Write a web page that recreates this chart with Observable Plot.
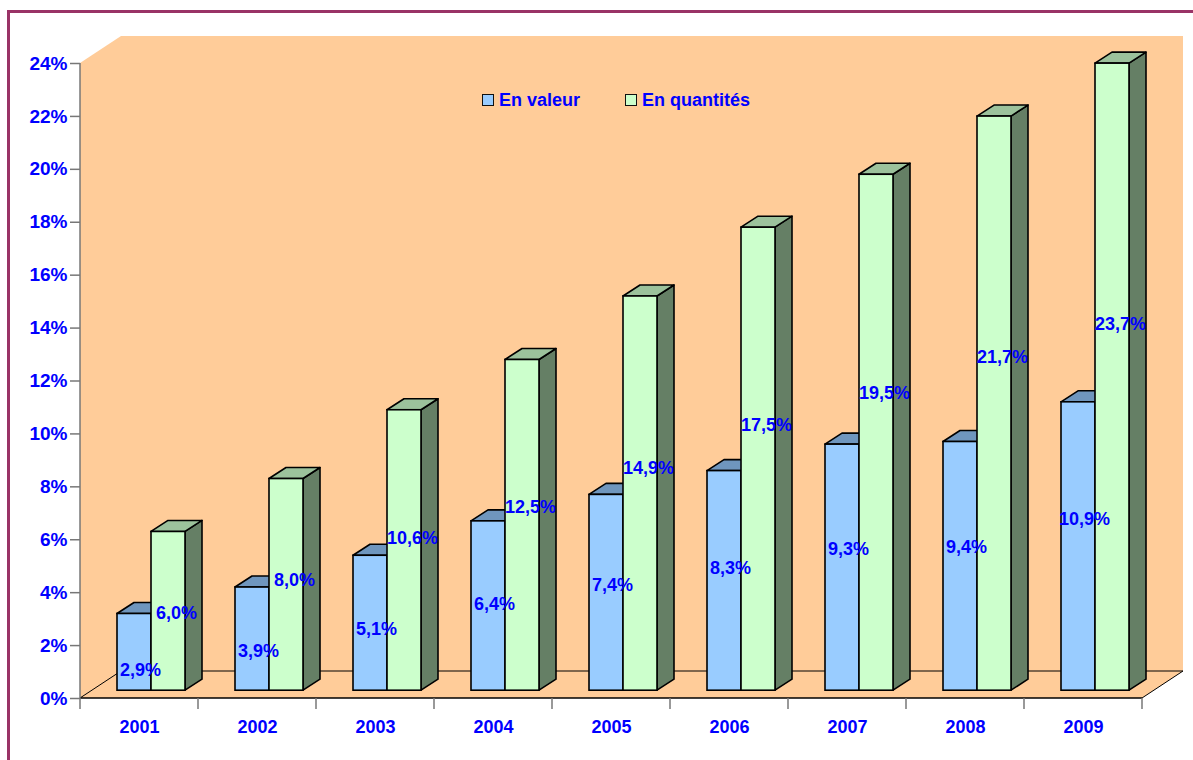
<!DOCTYPE html>
<html>
<head>
<meta charset="utf-8">
<script src="https://cdn.jsdelivr.net/npm/d3@7"></script>
<script src="https://cdn.jsdelivr.net/npm/@observablehq/plot@0.6"></script>
<style>
  html, body { margin: 0; padding: 0; background: #fff; }
  #page { position: relative; width: 1193px; height: 760px; overflow: hidden; font-family: "Liberation Sans", Arial, sans-serif; }
  #frame { position: absolute; left: 7px; top: 10px; width: 1300px; height: 900px; border: 3px solid #993366; box-sizing: border-box; }
  #chart { position: absolute; left: 0; top: 0; }
  .legend-item { position: absolute; top: 90px; display: flex; align-items: center; height: 20px;
    font: bold 18px "Liberation Sans", Arial, sans-serif; color: #0000FF; white-space: nowrap; }
  .legend-item .sw { width: 10px; height: 10px; border: 1.5px solid #111; margin-right: 5px; }
</style>
</head>
<body>
<div id="page">
  <div id="frame"></div>
  <div id="chart"></div>
  <div id="legend"></div>
</div>
<script>
// Part de marché, 2001–2009
const years = ["2001", "2002", "2003", "2004", "2005", "2006", "2007", "2008", "2009"];
const enValeur = [2.9, 3.9, 5.1, 6.4, 7.4, 8.3, 9.3, 9.4, 10.9];
const enQuantites = [6.0, 8.0, 10.6, 12.5, 14.9, 17.5, 19.5, 21.7, 23.7];
const yTicks = [0, 2, 4, 6, 8, 10, 12, 14, 16, 18, 20, 22, 24];
const seriesNames = ["En valeur", "En quantités"];

const rows = years.map((year, i) => ({year, valeur: enValeur[i], quantites: enQuantites[i]}));

// Colours (front / top / side)
const BLUE = "#99CCFF", BLUE_TOP = "#6F96BE", BLUE_SIDE = "#5A7A9A";
const GREEN = "#CCFFCC", GREEN_TOP = "#9CC29C", GREEN_SIDE = "#657F65";
const WALL = "#FFCC99";
const TEXT = "#0000FF";

// Geometry of the pseudo-3D box
const W = 1193, H = 760;
const M = {left: 80, right: 51, top: 63, bottom: 62};
const WALL_DX = 41, WALL_DY = -27;   // depth of the floor / walls
const BAR_DX = 17, BAR_DY = -11;     // depth of each bar
const SHIFT_DX = 11.5, SHIFT_DY = -7.8; // bars sit in the middle of the floor depth
const BAR_OFFSET = 25.5, BAR_W = 34; // first bar position inside a year band
const bandW = (W - M.left - M.right) / years.length;

const pct = v => d3.format(".1f")(v).replace(".", ",") + "%";

// Back wall, side wall, floor and axis lines
function box(index, scales, values, dims) {
  const y = scales.y, x = scales.x;
  const x0 = dims.marginLeft, x1 = dims.width - dims.marginRight;
  const y0 = y(0), yT = y(yTicks[yTicks.length - 1]);
  const g = d3.create("svg:g");
  g.append("path")
    .attr("d", `M${x0},${yT}L${x0 + WALL_DX},${yT + WALL_DY}L${x1 + WALL_DX},${yT + WALL_DY}` +
               `L${x1 + WALL_DX},${y0 + WALL_DY}L${x1},${y0}L${x0},${y0}Z`)
    .attr("fill", WALL);
  // floor edges
  g.append("path")
    .attr("d", `M${x0},${y0}L${x0 + WALL_DX},${y0 + WALL_DY}L${x1 + WALL_DX},${y0 + WALL_DY}L${x1},${y0}`)
    .attr("fill", "none").attr("stroke", "#000").attr("stroke-width", 1);
  // front edge of the floor
  g.append("line").attr("x1", x0).attr("x2", x1).attr("y1", y0).attr("y2", y0)
    .attr("stroke", "#000").attr("stroke-width", 1.5);
  // value axis line
  g.append("line").attr("x1", x0).attr("x2", x0).attr("y1", yT).attr("y2", y0 + 11)
    .attr("stroke", "#777").attr("stroke-width", 1.5);
  // category boundary ticks
  years.forEach((yr, i) => {
    const xb = x(yr) + x.bandwidth();
    g.append("line").attr("x1", xb).attr("x2", xb).attr("y1", y0).attr("y2", y0 + 11)
      .attr("stroke", "#777").attr("stroke-width", 1.5);
  });
  return g.node();
}

// Top and side faces of the bars
function faces(index, scales) {
  const x = scales.x, y = scales.y;
  const g = d3.create("svg:g").attr("stroke", "#000").attr("stroke-width", 1.6).attr("stroke-linejoin", "round");
  const series = [
    {key: "valeur", off: BAR_OFFSET, top: BLUE_TOP, side: BLUE_SIDE},
    {key: "quantites", off: BAR_OFFSET + BAR_W, top: GREEN_TOP, side: GREEN_SIDE}
  ];
  for (const s of series) {
    for (const r of rows) {
      const xl = x(r.year) + s.off + SHIFT_DX, xr = xl + BAR_W;
      const yt = y(r[s.key]) + SHIFT_DY, yb = y(0) + SHIFT_DY;
      g.append("path").attr("fill", s.side)
        .attr("d", `M${xr},${yt}L${xr + BAR_DX},${yt + BAR_DY}L${xr + BAR_DX},${yb + BAR_DY}L${xr},${yb}Z`);
      g.append("path").attr("fill", s.top)
        .attr("d", `M${xl},${yt}L${xr},${yt}L${xr + BAR_DX},${yt + BAR_DY}L${xl + BAR_DX},${yt + BAR_DY}Z`);
    }
  }
  return g.node();
}

const chart = Plot.plot({
  width: W,
  height: H,
  marginLeft: M.left,
  marginRight: M.right,
  marginTop: M.top,
  marginBottom: M.bottom,
  style: {fontFamily: '"Liberation Sans", Arial, sans-serif', fontSize: "18px", fontWeight: "bold", background: "transparent", overflow: "visible"},
  x: {type: "band", domain: years, paddingInner: 0, paddingOuter: 0, round: false},
  y: {type: "linear", domain: [0, 24]},
  marks: [
    box,
    faces,
    Plot.barY(rows, {
      x: "year", y: "valeur", fill: BLUE, stroke: "#000", strokeWidth: 1.6,
      insetLeft: BAR_OFFSET, insetRight: bandW - BAR_OFFSET - BAR_W, dx: SHIFT_DX, dy: SHIFT_DY
    }),
    Plot.barY(rows, {
      x: "year", y: "quantites", fill: GREEN, stroke: "#000", strokeWidth: 1.6,
      insetLeft: BAR_OFFSET + BAR_W, insetRight: bandW - BAR_OFFSET - 2 * BAR_W, dx: SHIFT_DX, dy: SHIFT_DY
    }),
    Plot.axisY({
      ticks: yTicks, tickFormat: d => d + "%", tickSize: 10, tickPadding: 3,
      stroke: "#777", strokeWidth: 1.5, fill: TEXT, fontSize: 19, fontWeight: "bold", label: null
    }),
    Plot.axisX({
      tickSize: 0, tickPadding: 22, fill: TEXT, fontSize: 18, fontWeight: "bold", label: null
    }),
    Plot.text(rows, {
      x: "year", y: d => 0.713 * d.valeur - 1.0, text: d => pct(d.valeur),
      dx: 1, fill: TEXT, fontSize: 18, fontWeight: "bold"
    }),
    Plot.text(rows, {
      x: "year", y: d => 0.616 * d.quantites - 0.46, text: d => pct(d.quantites),
      dx: 37, fill: TEXT, fontSize: 18, fontWeight: "bold"
    })
  ]
});
document.getElementById("chart").appendChild(chart);

// Legend
const legend = document.getElementById("legend");
[[seriesNames[0], BLUE, 482], [seriesNames[1], GREEN, 625]].forEach(([name, color, left]) => {
  const item = document.createElement("div");
  item.className = "legend-item";
  item.style.left = left + "px";
  const sw = document.createElement("span");
  sw.className = "sw";
  sw.style.background = color;
  item.appendChild(sw);
  item.appendChild(document.createTextNode(name));
  legend.appendChild(item);
});
</script>
</body>
</html>
